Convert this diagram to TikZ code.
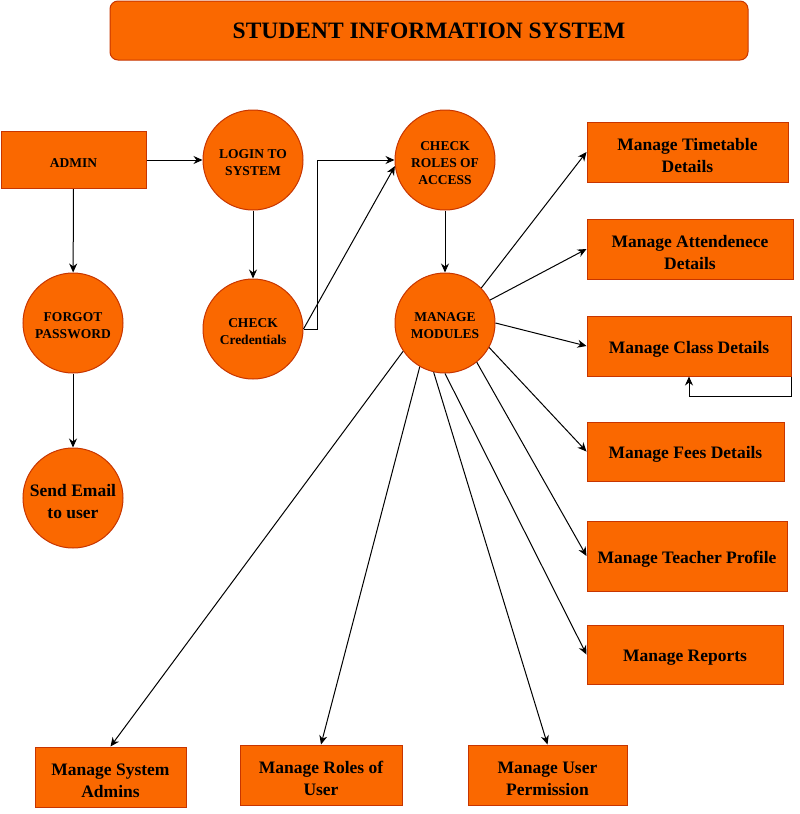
\documentclass[tikz,border=0pt]{standalone}
\usepackage{fontspec}
\setmainfont{Liberation Serif}
\usetikzlibrary{arrows.meta}
\definecolor{sisorange}{HTML}{FA6800}
\definecolor{sisedge}{HTML}{C73500}
\newcommand{\toppad}{\rule{0pt}{1.05em}}

\begin{document}
\begin{tikzpicture}[x=1pt, y=-1pt,
    every node/.style={font=\bfseries\fontsize{13.5}{17}\selectfont, text=black},
    filled/.style={draw=sisedge, fill=sisorange, line width=1pt, inner sep=0pt, align=center},
    proc/.style={filled, circle, minimum size=100pt},
    entity/.style={filled, minimum height=60pt},
    module/.style={entity, font=\bfseries\fontsize{17.5}{22}\selectfont},
    arrow/.style={-{Stealth[length=9pt, width=8pt]}, line width=1pt}
]
\useasboundingbox (0,0) rectangle (800,814);

\node[filled, rounded corners=8pt, minimum width=638pt, minimum height=59pt,
      font=\bfseries\fontsize{23.5}{28}\selectfont] (title) at (429,30.5)
{STUDENT INFORMATION SYSTEM};

% login flow
\node[entity, minimum width=145pt, minimum height=57pt] (admin) at (73.5,160) {\toppad ADMIN};
\node[proc] (login)   at (253,160) {\toppad LOGIN TO\\SYSTEM};
\node[proc] (cred)    at (253,329) {\toppad CHECK\\Credentials};
\node[proc] (forgot)  at (73,323)  {\toppad FORGOT\\PASSWORD};
\node[proc, font=\bfseries\fontsize{17.5}{22}\selectfont] (email) at (73,498) {\toppad Send Email\\to user};
\node[proc] (roles)   at (445,160) {\toppad CHECK\\ROLES OF\\ACCESS};
\node[proc] (modules) at (445,323) {\toppad MANAGE\\MODULES};

% modules
\node[module, minimum width=201pt] (timetable) at (687.5,152) {\toppad Manage Timetable\\Details};
\node[module, minimum width=206pt] (attend)    at (690,249)   {\toppad Manage Attendenece\\Details};
\node[module, minimum width=204pt] (class)     at (689,346)   {\toppad Manage Class Details};
\node[module, minimum width=197pt, minimum height=59pt] (fees) at (685.5,451.5) {\toppad Manage Fees Details};
\node[module, minimum width=200pt, minimum height=70pt] (teacher) at (687,556) {\toppad Manage Teacher Profile};
\node[module, minimum width=196pt, minimum height=59pt] (reports) at (685,654.5) {\toppad Manage Reports};
\node[module, minimum width=151pt] (sysadmin)  at (110.5,777) {\toppad Manage System\\Admins};
\node[module, minimum width=162pt] (userroles) at (321,775)   {\toppad Manage Roles of\\User};
\node[module, minimum width=159pt] (userperm)  at (547.5,775) {\toppad Manage User\\Permission};

% connectors
\draw[arrow] (admin) -- (login);
\draw[arrow] (admin) -- (forgot);
\draw[arrow] (forgot) -- (email);
\draw[arrow] (login) -- (cred);
\draw[arrow] (cred.east) -- ++(14,0) |- (roles.west);
\draw[arrow] (cred.east) -- (roles.187);
\draw[arrow] (roles) -- (modules);

\draw[arrow] (modules.44)   -- (timetable.west);
\draw[arrow] (modules.27)   -- (attend.west);
\draw[arrow] (modules.east) -- (class.west);
\draw[arrow] (modules.-29)  -- (fees.west);
\draw[arrow] (modules.-51)  -- (teacher.west);
\draw[arrow] (modules.south) -- (reports.west);
\draw[arrow] (modules.-103) -- (userperm.north);
\draw[arrow] (modules.-120) -- (userroles.north);
\draw[arrow] (modules.-146) -- (sysadmin.north);

\draw[arrow] (class.south east) -- ++(0,20) -| (class.south);

\end{tikzpicture}
\end{document}
